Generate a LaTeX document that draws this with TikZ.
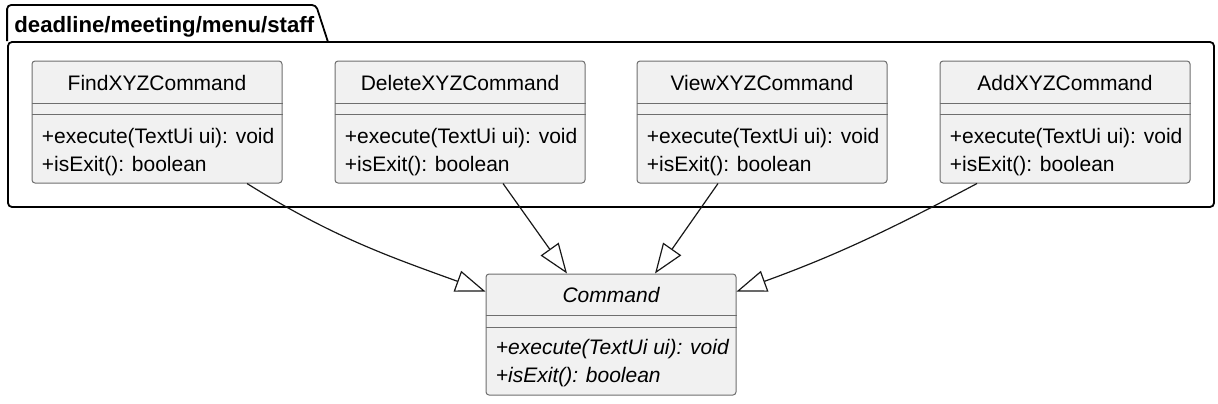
\documentclass[tikz,border=0pt]{standalone}
\usepackage{fontspec}
\setmainfont{Liberation Sans}
\usetikzlibrary{arrows.meta,positioning}

\definecolor{boxfill}{HTML}{F1F1F1}
\definecolor{boxline}{HTML}{6E6E6E}
\definecolor{edgeline}{HTML}{181818}

\begin{document}
\begin{tikzpicture}[
        x=0.5pt, y=0.5pt,
        pkgline/.style={draw=black, line width=0.9pt, rounded corners=2pt},
        classbox/.style={draw=boxline, fill=boxfill, line width=0.5pt, rounded corners=1.5pt, minimum width=125pt, minimum height=61pt, inner sep=0pt},
        classname/.style={anchor=base, inner sep=0pt, font=\fontsize{10.5}{14}\selectfont},
        members/.style={anchor=base west, inner sep=0pt, align=left, font=\fontsize{10.5}{14}\selectfont},
        sep/.style={draw=boxline, line width=0.5pt},
        extends/.style={draw=edgeline, line width=0.6pt, -{Triangle[open, length=15pt, width=11pt]}}
    ]
        \useasboundingbox (0,0) rectangle (1218,403);

        % Package frame and tab
        \node (pkg) [pkgline, minimum width=603pt, minimum height=82.5pt, inner sep=0pt] at (611,278.5) {};
        \draw [pkgline] (pkg.north west) |- (316,398) -- (328,361);
        \node (pkgtitle) [anchor=base west, inner sep=0pt, font=\fontsize{11.1}{13}\selectfont\bfseries] at (14,371) {deadline/meeting/menu/staff};

        % Classes in the package
        \node (find) [classbox] at (157,281) {};
        \node [classname] at ([yshift=-15pt]find.north) {FindXYZCommand};
        \draw [sep] ([yshift=-21.5pt]find.north west) -- ([yshift=-21.5pt]find.north east);
        \draw [sep] ([yshift=-27pt]find.north west) -- ([yshift=-27pt]find.north east);
        \node [members] at ([xshift=5pt, yshift=-55.5pt]find.north west) {+execute(TextUi ui): void\\+isExit(): boolean};

        \node (delete) [classbox] at (460,281) {};
        \node [classname] at ([yshift=-15pt]delete.north) {DeleteXYZCommand};
        \draw [sep] ([yshift=-21.5pt]delete.north west) -- ([yshift=-21.5pt]delete.north east);
        \draw [sep] ([yshift=-27pt]delete.north west) -- ([yshift=-27pt]delete.north east);
        \node [members] at ([xshift=5pt, yshift=-55.5pt]delete.north west) {+execute(TextUi ui): void\\+isExit(): boolean};

        \node (view) [classbox] at (762,281) {};
        \node [classname] at ([yshift=-15pt]view.north) {ViewXYZCommand};
        \draw [sep] ([yshift=-21.5pt]view.north west) -- ([yshift=-21.5pt]view.north east);
        \draw [sep] ([yshift=-27pt]view.north west) -- ([yshift=-27pt]view.north east);
        \node [members] at ([xshift=5pt, yshift=-55.5pt]view.north west) {+execute(TextUi ui): void\\+isExit(): boolean};

        \node (add) [classbox] at (1065,281) {};
        \node [classname] at ([yshift=-15pt]add.north) {AddXYZCommand};
        \draw [sep] ([yshift=-21.5pt]add.north west) -- ([yshift=-21.5pt]add.north east);
        \draw [sep] ([yshift=-27pt]add.north west) -- ([yshift=-27pt]add.north east);
        \node [members] at ([xshift=5pt, yshift=-55.5pt]add.north west) {+execute(TextUi ui): void\\+isExit(): boolean};

        % Abstract base class
        \node (cmd) [classbox, minimum height=60.5pt] at (611,68.5) {};
        \node [classname, font=\fontsize{10.5}{14}\selectfont\itshape] at ([yshift=-14.5pt]cmd.north) {Command};
        \draw [sep] ([yshift=-21pt]cmd.north west) -- ([yshift=-21pt]cmd.north east);
        \draw [sep] ([yshift=-27pt]cmd.north west) -- ([yshift=-27pt]cmd.north east);
        \node [members, font=\fontsize{10.5}{14}\selectfont\itshape] at ([xshift=5pt, yshift=-54.5pt]cmd.north west) {+execute(TextUi ui): void\\+isExit(): boolean};

        % Generalisations
        \draw [extends] ([xshift=45pt]find.south) to[out=-32, in=160] ([yshift=-9pt]cmd.north west);
        \draw [extends] ([xshift=21.5pt]delete.south) -- ([xshift=-22pt]cmd.north);
        \draw [extends] ([xshift=-22pt]view.south) -- ([xshift=22pt]cmd.north);
        \draw [extends] ([xshift=-44pt]add.south) to[out=208, in=20] ([yshift=-9pt]cmd.north east);

    \end{tikzpicture}
\end{document}
